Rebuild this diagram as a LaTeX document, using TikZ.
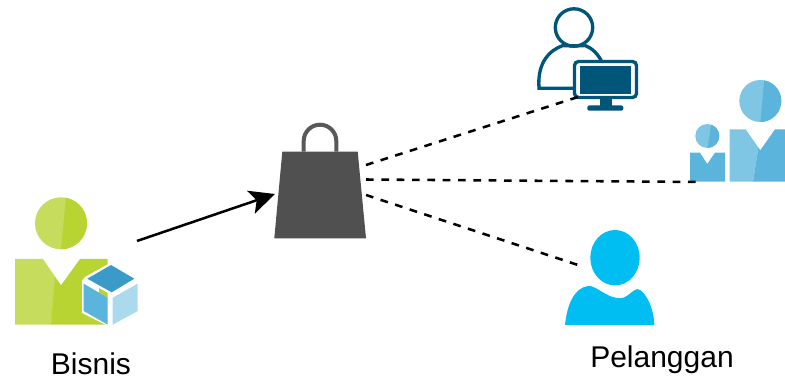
\documentclass[tikz,border=0pt]{standalone}
\usepackage{fontspec}
\setmainfont{Liberation Sans}
\usetikzlibrary{arrows.meta, positioning}
\definecolor{limelight}{HTML}{C5DC5C}
\definecolor{limedark}{HTML}{B8D432}
\definecolor{cubetop}{HTML}{3C9AC9}
\definecolor{cubeleft}{HTML}{5AB4DC}
\definecolor{cuberight}{HTML}{ABDAEE}
\definecolor{bagfill}{HTML}{505050}
\definecolor{navyicon}{HTML}{005578}
\definecolor{skylight}{HTML}{7FC6E4}
\definecolor{skydark}{HTML}{5AB4DC}
\definecolor{custfill}{HTML}{00BEF2}

\begin{document}
\begin{tikzpicture}[x=0.75pt, y=-0.75pt]
    \tikzset{
      namelabel/.style={font=\fontsize{22.5pt}{26pt}\selectfont, inner sep=0pt, anchor=base},
      salesline/.style={-{Stealth[length=19pt, width=18pt, inset=4.5pt]}, line width=1.9pt, black},
      reachline/.style={line width=1.9pt, black, dash pattern=on 5.8pt off 5.7pt}}
    \useasboundingbox (0,0) rectangle (785,377);
    % business person with cube
    \fill[limelight] (61,223.3) circle (26);
    \begin{scope}
      \clip (61,223.3) circle (26);
      \fill[limedark] (66.7,190) -- (100,190) -- (100,255) -- (60.5,255) -- cycle;
    \end{scope}
    \fill[limelight] (15,259) -- (43,259) -- (61,285.3) -- (56,285.3) -- (51,324.7) -- (15,324.7) -- cycle;
    \fill[limedark] (55,277.5) -- (61,285.3) -- (80,259) -- (107.7,259) -- (107.7,324.7) -- (51,324.7) -- cycle;
    \fill[white] (111,262.5) -- (139,279) -- (139,313) -- (110.2,327) -- (82,313) -- (82,281) -- (85,277) -- cycle;
    \fill[limedark] (107.7,297.7) -- (107.7,293) -- (99,288) -- (99,292.6) -- cycle;
    \fill[cubetop] (111,265) -- (134.3,278.7) -- (111.7,292.3) -- (87.3,278.7) -- cycle;
    \fill[cubeleft] (83.7,283.7) -- (107.7,297.7) -- (107.7,324.7) -- (83.7,311) -- cycle;
    \fill[cuberight] (112.7,297.7) -- (137.7,283.7) -- (137.7,311) -- (112.7,324.7) -- cycle;
    % bag
    \draw[bagfill!95!white, line width=3pt] (303.7,151.7) -- (303.7,141) arc[start angle=180, end angle=360, radius=16.3] -- (336.3,151.7);
    \fill[bagfill] (282.3,151.7) -- (357.7,151.7) -- (366,238.3) -- (274.3,238.3) -- cycle;
    % person at monitor
    \draw[navyicon, line width=2.5pt] (574,27.5) circle (18.7);
    \draw[navyicon, line width=2.5pt] (574,88.3) -- (539,88.3)
      .. controls (537,62) and (550,50) .. (563,45.5) .. controls (565,46) and (582,46) .. (585,45.5)
      .. controls (592,48) and (598,54) .. (602,62);
    \draw[navyicon, fill=white, line width=2.5pt, rounded corners=3pt] (574.5,61.5) rectangle (636.5,97.5);
    \fill[navyicon] (580,66) rectangle (630.7,94.5);
    \fill[navyicon] (600,98) rectangle (611.7,106.5);
    \fill[navyicon, rounded corners=1.5pt] (587.3,105.5) rectangle (623.3,110.7);
    % group of two
    \fill[skylight] (760.3,101) circle (21);
    \begin{scope}
      \clip (760.3,101) circle (21);
      \fill[skydark] (764.3,78) -- (785,78) -- (785,124) -- (760.3,124) -- cycle;
    \end{scope}
    \fill[skylight] (729.7,129.3) -- (745.7,129.3) -- (758.3,147.5) -- (753,181.7) -- (729.7,181.7) -- cycle;
    \fill[skydark] (758.3,147.5) -- (760.3,150.3) -- (775,129.3) -- (785,129.3) -- (785,181.7) -- (753,181.7) -- cycle;
    \fill[skylight] (707.3,136) circle (12);
    \begin{scope}
      \clip (707.3,136) circle (12);
      \fill[skydark] (711.5,122) -- (722,122) -- (722,150) -- (707.3,150) -- cycle;
    \end{scope}
    \fill[skydark] (690,152.7) -- (700,152.7) -- (707.3,164) -- (715,152.7) -- (725,152.7) -- (725,181.7) -- (690,181.7) -- cycle;
    % customer
    \fill[custfill] (615,257.7) ellipse (24.7 and 27.7);
    \fill[custfill] (565,325) .. controls (567,305) and (574,288) .. (588,286)
      .. controls (596,285) and (606,298) .. (620,298.3)
      .. controls (628,298) and (632,290) .. (637.3,289)
      .. controls (645,290) and (654,308) .. (654.3,325) -- cycle;
    % labels
    \node[namelabel] (bisnis) at (91,375) {Bisnis};
    \node[namelabel] (pelanggan) at (662,368) {Pelanggan};
    % connector ends
    \coordinate (sell) at (137,241);
    \coordinate (bagleft) at (275,194);
    \coordinate (bagtop) at (366,165);
    \coordinate (bagmid) at (366,179.5);
    \coordinate (bagbot) at (366,195);
    \coordinate (monitor) at (578,97);
    \coordinate (group) at (703,182);
    \coordinate (cust) at (578,265);
    \draw[salesline] (sell) -- (bagleft);
    \draw[reachline] (bagtop) -- (monitor);
    \draw[reachline] (bagmid) -- (group);
    \draw[reachline] (bagbot) -- (cust);
\end{tikzpicture}
\end{document}
